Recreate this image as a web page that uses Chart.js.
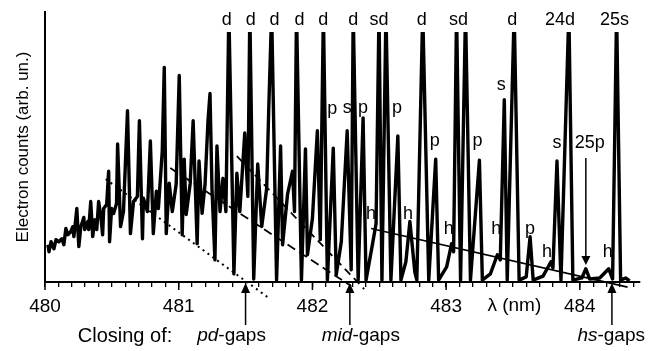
<!DOCTYPE html>
<html>
<head>
<meta charset="utf-8">
<script src="https://cdn.jsdelivr.net/npm/chart.js@4.4.1/dist/chart.umd.min.js"></script>
<style>
  html, body { margin: 0; padding: 0; background: #fff; }
  #chart { display: block; }
</style>
</head>
<body>
<canvas id="chart" width="648" height="351"></canvas>
<script>
// spectrum (clipped peaks set to the top of the axis)
const wavelength = [
  480.022, 480.030, 480.045, 480.067, 480.082, 480.104, 480.126, 480.141, 480.156, 480.171, 480.193, 480.208, 480.216,
  480.238, 480.253, 480.268, 480.290, 480.297, 480.320, 480.327, 480.342, 480.357, 480.372, 480.387, 480.401, 480.416, 480.431,
  480.439, 480.461, 480.476, 480.483, 480.498, 480.513, 480.535, 480.543, 480.565, 480.587, 480.617, 480.639, 480.662, 480.691, 480.706, 480.729, 480.736,
  480.766, 480.788, 480.810, 480.833, 480.848, 480.877, 480.892, 480.907, 480.929, 480.952, 480.981, 481.004, 481.026, 481.041, 481.056,
  481.086, 481.108, 481.138, 481.152, 481.175, 481.197, 481.219, 481.234, 481.249, 481.271, 481.286, 481.309, 481.331, 481.353,
  481.375, 481.413, 481.435, 481.457, 481.494, 481.517, 481.532, 481.561, 481.591, 481.621, 481.658, 481.673, 481.695, 481.732, 481.762, 481.777, 481.814, 481.851, 481.866, 481.881, 481.918, 481.948, 481.963, 482.000, 482.037, 482.059,
  482.082, 482.112, 482.156, 482.178, 482.216, 482.260, 482.290, 482.305, 482.342, 482.379, 482.401, 482.446, 482.476, 482.498, 482.520, 482.550, 482.587, 482.639, 482.662, 482.699, 482.729, 482.766, 482.781,
  482.825, 482.870, 482.922, 482.944, 483.004, 483.041, 483.056, 483.078, 483.108, 483.145, 483.182, 483.249, 483.271, 483.331, 483.383, 483.405, 483.435, 483.457, 483.509, 483.546, 483.599, 483.628, 483.651,
  483.725, 483.784, 483.799, 483.829, 483.859, 483.918, 483.948, 484.015, 484.045, 484.074, 484.149, 484.216, 484.245, 484.275, 484.305, 484.342, 484.372
];
const counts = [
  13.8, 11.2, 14.9, 12.3, 15.7, 14.9, 16.0, 13.8, 19.8, 17.5, 18.7, 20.5, 16.8,
  27.2, 13.1, 20.5, 23.9, 19.4, 22.4, 19.4, 29.8, 16.8, 23.1, 19.4, 29.8, 25.0, 17.5,
  27.2, 28.7, 41.0, 14.9, 27.2, 25.4, 29.1, 51.1, 20.5, 26.1, 63.4, 17.9, 29.8, 31.7, 59.7, 16.0, 31.0,
  26.1, 52.2, 17.9, 33.6, 27.2, 48.5, 79.5, 17.9, 36.6, 26.1, 36.2, 76.5, 17.5, 45.5, 25.0,
  36.6, 59.7, 14.2, 44.8, 25.4, 36.2, 59.7, 69.8, 34.3, 8.2, 50.4, 26.1, 38.4, 26.1,
  100, 3.0, 40.3, 26.1, 55.2, 31.7, 100, 1.1, 43.7, 20.5, 34.7, 63.4, 100, 0.7, 50.4, 13.8, 32.5, 41.0, 26.1, 100, 0.7, 49.3, 10.1, 23.5, 56.0, 15.7,
  100, 0.7, 49.6, 2.6, 14.9, 56.0, 4.5, 100, 0.7, 60.8, 0.7, 13.1, 21.6, 100, 0.7, 100, 0.7, 54.1, 0.7, 7.5, 22.4, 3.7, 0.7,
  100, 0.7, 45.5, 0.7, 5.6, 14.2, 11.2, 100, 0.7, 100, 0.7, 45.1, 0.7, 3.0, 10.1, 8.2, 67.5, 0.7, 100, 0.7, 1.9, 16.8, 0.7,
  2.2, 7.5, 5.2, 44.8, 0.7, 100, 0.7, 1.5, 4.9, 1.1, 1.5, 4.9, 1.1, 100, 0.7, 1.5, 0.4
];

// guide lines (end points)
const pdLineX = [480.454, 481.665], pdLineY = [38.1, -5.6];
const midLineAX = [480.937, 482.290], midLineAY = [42.2, -1.5];
const midLineBX = [481.435, 482.387], midLineBY = [46.6, -2.6];
const hsLineX = [482.439, 484.357], hsLineY = [19.8, -1.9];

// peak labels
const topLabels = ['d', 'd', 'd', 'd', 'd', 'd', 'sd', 'd', 'sd', 'd', '24d', '25s'];
const topLabelX = [481.360, 481.539, 481.717, 481.903, 482.082, 482.305, 482.498, 482.818, 483.093, 483.494, 483.851, 484.260];
const peakLabels = ['p', 's', 'p', 'p', 'h', 'h', 'p', 'p', 's', 'h', 'h', 'p', 'h', 'h', 's', '25p'];
const peakLabelX = [482.149, 482.260, 482.379, 482.632, 482.439, 482.714, 482.915, 483.234, 483.413, 483.019, 483.375, 483.628, 483.755, 484.208, 483.829, 484.074];
const peakLabelY = [64.2, 64.5, 64.5, 64.5, 25.0, 25.0, 52.2, 52.2, 72.8, 19.8, 19.8, 19.8, 11.2, 11.2, 51.5, 51.5];
const arrow25p = [484.045, 45.9, 6.3];

// gap closings marked under the axis
const gapNames = [['pd', '-gaps'], ['mid', '-gaps'], ['hs', '-gaps']];
const gapX = [481.50, 482.28, 484.24];

const FONT = '"Liberation Sans", Arial, sans-serif';

function pts(xs, ys) {
  return xs.map((v, i) => ({ x: v, y: ys[i] }));
}

const annotate = {
  id: 'annotate',
  afterDatasetsDraw(chart) {
    const { ctx, chartArea, scales: { x, y } } = chart;
    const bottom = chartArea.bottom;
    ctx.save();
    ctx.fillStyle = '#000';
    ctx.strokeStyle = '#000';

    // longer ticks at whole nm
    ctx.lineWidth = 1.5;
    for (let v = 480; v <= 484; v++) {
      const px = x.getPixelForValue(v);
      ctx.beginPath();
      ctx.moveTo(px, bottom);
      ctx.lineTo(px, bottom + 8);
      ctx.stroke();
    }

    ctx.font = '18px ' + FONT;
    ctx.textAlign = 'center';
    ctx.textBaseline = 'middle';
    topLabels.forEach((t, i) => {
      ctx.fillText(t, x.getPixelForValue(topLabelX[i]), y.getPixelForValue(97));
    });
    peakLabels.forEach((t, i) => {
      ctx.fillText(t, x.getPixelForValue(peakLabelX[i]), y.getPixelForValue(peakLabelY[i]));
    });

    // 25p arrow
    const ax = x.getPixelForValue(arrow25p[0]);
    const ay0 = y.getPixelForValue(arrow25p[1]);
    const ay1 = y.getPixelForValue(arrow25p[2]);
    ctx.lineWidth = 1.5;
    ctx.beginPath();
    ctx.moveTo(ax, ay0);
    ctx.lineTo(ax, ay1 - 6);
    ctx.stroke();
    ctx.beginPath();
    ctx.moveTo(ax, ay1);
    ctx.lineTo(ax - 4.5, ay1 - 9);
    ctx.lineTo(ax + 4.5, ay1 - 9);
    ctx.closePath();
    ctx.fill();

    // lambda label
    ctx.font = '19px ' + FONT;
    ctx.fillText('\u03bb (nm)', x.getPixelForValue(483.51), bottom + 24);

    // arrows and captions under the axis
    const rowY = bottom + 54;
    gapNames.forEach((parts, i) => {
      const px = x.getPixelForValue(gapX[i]);
      ctx.lineWidth = 1.5;
      ctx.beginPath();
      ctx.moveTo(px, bottom + 8);
      ctx.lineTo(px, bottom + 43);
      ctx.stroke();
      ctx.beginPath();
      ctx.moveTo(px, bottom + 1);
      ctx.lineTo(px - 4.5, bottom + 11);
      ctx.lineTo(px + 4.5, bottom + 11);
      ctx.closePath();
      ctx.fill();

      ctx.font = 'italic 19px ' + FONT;
      const w1 = ctx.measureText(parts[0]).width;
      ctx.font = '19px ' + FONT;
      const w2 = ctx.measureText(parts[1]).width;
      const w = w1 + w2;
      let start = px - 14 - w / 2;
      if (i === 1) start = px + 11 - w / 2;
      if (i === 2) start = chart.width - 3 - w;
      ctx.textAlign = 'left';
      ctx.font = 'italic 19px ' + FONT;
      ctx.fillText(parts[0], start, rowY);
      ctx.font = '19px ' + FONT;
      ctx.fillText(parts[1], start + w1, rowY);
    });
    ctx.font = '20px ' + FONT;
    ctx.textAlign = 'center';
    ctx.fillText('Closing of:', 125, rowY);
    ctx.restore();
  }
};

const lineStyle = { borderColor: '#000', pointRadius: 0, fill: false, tension: 0, clip: false };

new Chart(document.getElementById('chart'), {
  type: 'line',
  data: {
    datasets: [
      {
        data: pts(wavelength, counts),
        borderColor: '#000',
        borderWidth: 3.4,
        borderJoinStyle: 'round',
        pointRadius: 0,
        tension: 0,
        clip: { left: 0, top: -20, right: 0, bottom: 0 }
      },
      Object.assign({ data: pts(pdLineX, pdLineY), borderWidth: 2, borderDash: [2, 4] }, lineStyle),
      Object.assign({ data: pts(midLineAX, midLineAY), borderWidth: 1.8, borderDash: [9, 5] }, lineStyle),
      Object.assign({ data: pts(midLineBX, midLineBY), borderWidth: 1.8, borderDash: [8, 5] }, lineStyle),
      Object.assign({ data: pts(hsLineX, hsLineY), borderWidth: 1.6 }, lineStyle)
    ]
  },
  options: {
    responsive: false,
    animation: false,
    devicePixelRatio: 1,
    layout: { padding: { top: 12, right: 8, left: 0, bottom: 0 } },
    plugins: { legend: { display: false }, tooltip: { enabled: false } },
    scales: {
      x: {
        type: 'linear',
        min: 480,
        max: 484.45,
        afterFit(scale) { scale.height = 69; },
        border: { display: true, color: '#000', width: 2 },
        grid: { drawOnChartArea: false, color: '#000', lineWidth: 1.3, tickLength: 5 },
        ticks: {
          stepSize: 0.1,
          autoSkip: false,
          maxRotation: 0,
          includeBounds: false,
          padding: 8,
          color: '#000',
          font: { family: FONT, size: 19 },
          callback(v) {
            const r = Math.round(v);
            return Math.abs(v - r) < 1e-6 ? String(r) : '';
          }
        }
      },
      y: {
        min: 0,
        max: 100,
        afterFit(scale) { scale.width = 45; },
        border: { display: true, color: '#000', width: 2 },
        grid: { display: false },
        ticks: { display: false },
        title: {
          display: true,
          text: 'Electron counts (arb. un.)',
          color: '#000',
          font: { family: FONT, size: 17 },
          padding: { top: 13, bottom: 0 }
        }
      }
    }
  },
  plugins: [annotate]
});
</script>
</body>
</html>
